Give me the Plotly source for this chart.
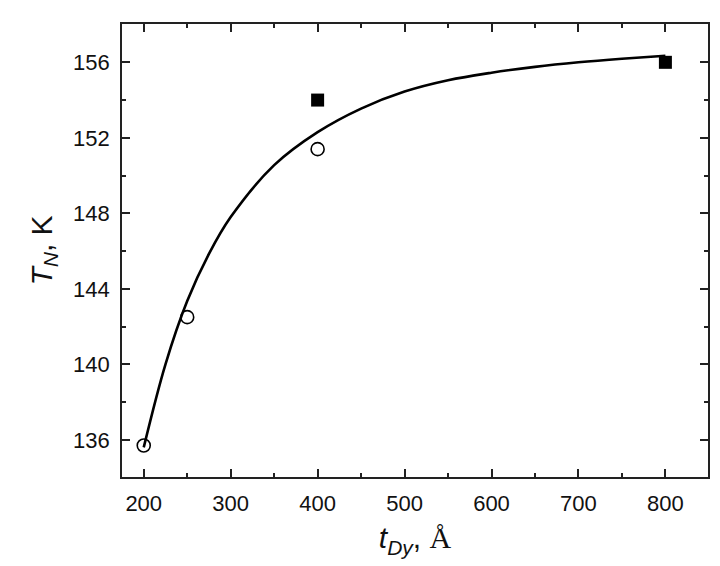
import plotly.graph_objects as go

# Data
circle_x = [200, 250, 400]
circle_y = [135.7, 142.5, 151.4]

square_x = [400, 800]
square_y = [154.0, 156.0]

curve_x = [200, 225, 250, 275, 300, 350, 400, 450, 500, 550, 600, 650, 700, 750, 800]
curve_y = [135.6, 140.0, 143.35, 145.85, 147.8, 150.55, 152.3, 153.55, 154.45,
           155.05, 155.45, 155.76, 156.0, 156.19, 156.35]

x_ticks = [200, 300, 400, 500, 600, 700, 800]
y_ticks = [136, 140, 144, 148, 152, 156]

fig = go.Figure()
fig.add_trace(go.Scatter(x=curve_x, y=curve_y, mode="lines",
                         line=dict(color="black", width=2.6, shape="spline", smoothing=1.0),
                         showlegend=False, hoverinfo="skip"))
fig.add_trace(go.Scatter(x=circle_x, y=circle_y, mode="markers",
                         marker=dict(symbol="circle-open", size=13, color="black",
                                     line=dict(width=1.6, color="black")),
                         showlegend=False))
fig.add_trace(go.Scatter(x=square_x, y=square_y, mode="markers",
                         marker=dict(symbol="square", size=13, color="black"),
                         showlegend=False))

axis_common = dict(
    showgrid=False, zeroline=False, automargin=False,
    showline=True, linecolor="#222", linewidth=1.6,
    mirror="ticks", ticks="inside", ticklen=8, tickwidth=1.5, tickcolor="#222",
    tickfont=dict(family="Liberation Sans, Arial", size=22, color="#111"),
)

fig.update_xaxes(range=[175, 849], tickvals=x_ticks, ticklabelstandoff=6,
                 minor=dict(dtick=50, ticks="inside", ticklen=4, tickwidth=1.5, tickcolor="#222", showgrid=False),
                 title=dict(text="<i>t<sub>Dy</sub></i>, <span style='font-family:Liberation Serif'>Å</span>",
                            font=dict(family="Liberation Sans, Arial", size=30, color="#111"), standoff=12),
                 **axis_common)
fig.update_yaxes(range=[134.03, 158.03], tickvals=y_ticks, ticklabelstandoff=6,
                 minor=dict(dtick=2, ticks="inside", ticklen=4, tickwidth=1.5, tickcolor="#222", showgrid=False),
                 title=dict(text="<i>T<sub>N</sub></i>, K",
                            font=dict(family="Liberation Sans, Arial", size=30, color="#111"), standoff=12),
                 **axis_common)

fig.update_layout(template="none", width=720, height=566,
                  margin=dict(l=114, r=20, t=16, b=97),
                  paper_bgcolor="white", plot_bgcolor="white")

fig.write_html("out.html")
